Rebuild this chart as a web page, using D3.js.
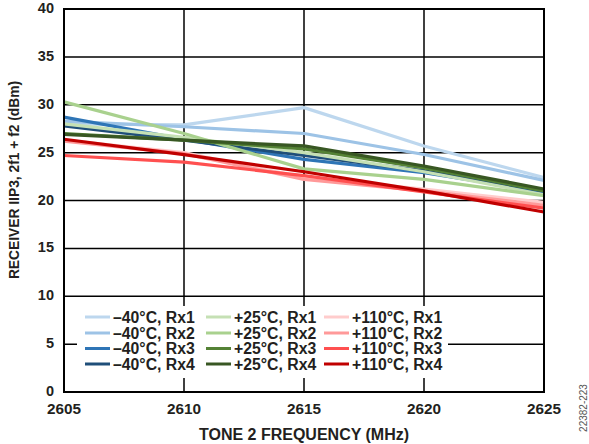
<!DOCTYPE html>
<html><head><meta charset="utf-8">
<script src="https://cdn.jsdelivr.net/npm/d3@7"></script>
<style>body{margin:0;background:#fff}svg{display:block}text{font-family:"Liberation Sans",Arial,sans-serif;font-weight:bold;fill:#231f20}</style>
</head><body><svg id="c" width="589" height="444"></svg>
<script>
const freqs = [2605, 2610, 2615, 2620, 2625];
const xTicks = [2605, 2610, 2615, 2620, 2625];
const yTicks = [0, 5, 10, 15, 20, 25, 30, 35, 40];
const seriesNames = ["–40°C, Rx1","–40°C, Rx2","–40°C, Rx3","–40°C, Rx4","+25°C, Rx1","+25°C, Rx2","+25°C, Rx3","+25°C, Rx4","+110°C, Rx1","+110°C, Rx2","+110°C, Rx3","+110°C, Rx4"];
const seriesColors = ["#bdd7ee","#9dc3e6","#2e75b6","#1f4e79","#c5e0b4","#a9d18e","#548235","#385723","#ffcccc","#ff9999","#ff5050","#c00000"];
const m40Rx1 = [28.0, 27.9, 29.7, 25.7, 22.4];
const m40Rx2 = [28.3, 27.7, 27.0, 24.8, 22.1];
const m40Rx3 = [28.7, 26.4, 24.3, 22.9, 20.9];
const m40Rx4 = [27.8, 26.3, 24.7, 23.1, 21.0];
const p25Rx1 = [28.0, 26.6, 25.0, 23.0, 20.6];
const p25Rx2 = [30.3, 27.0, 23.3, 22.2, 20.5];
const p25Rx3 = [27.0, 26.3, 25.4, 23.4, 21.0];
const p25Rx4 = [26.9, 26.3, 25.7, 23.6, 21.2];
const p110Rx1 = [26.3, 25.0, 22.4, 21.2, 19.8];
const p110Rx2 = [26.2, 24.9, 22.2, 21.0, 19.5];
const p110Rx3 = [24.7, 24.0, 22.6, 20.9, 19.2];
const p110Rx4 = [26.4, 24.8, 23.0, 21.0, 18.8];
const seriesValues = [m40Rx1,m40Rx2,m40Rx3,m40Rx4,p25Rx1,p25Rx2,p25Rx3,p25Rx4,p110Rx1,p110Rx2,p110Rx3,p110Rx4];

const svg = d3.select("#c");
const L = 64, R = 544, T = 9, B = 392;
const x = d3.scaleLinear().domain([2605, 2625]).range([L, R]);
const y = d3.scaleLinear().domain([0, 40]).range([B, T]);

// grid
const g = svg.append("g");
g.selectAll("line.h").data(yTicks).join("line")
  .attr("x1", L).attr("x2", R).attr("y1", d => y(d)).attr("y2", d => y(d))
  .attr("stroke", "#000").attr("stroke-width", 1.5);
g.selectAll("line.v").data(xTicks).join("line")
  .attr("x1", d => x(d)).attr("x2", d => x(d)).attr("y1", T).attr("y2", B)
  .attr("stroke", "#000").attr("stroke-width", 1.5);

// lines
const line = d3.line().x((d, i) => x(freqs[i])).y(d => y(d));
svg.append("g").selectAll("path").data(seriesValues).join("path")
  .attr("d", d => line(d)).attr("fill", "none")
  .attr("stroke", (d, i) => seriesColors[i]).attr("stroke-width", 3.2)
  .attr("stroke-linejoin", "round");

// frame
svg.append("rect").attr("x", L).attr("y", T).attr("width", R - L).attr("height", B - T)
  .attr("fill", "none").attr("stroke", "#000").attr("stroke-width", 2);

// axes labels
svg.append("g").selectAll("text").data(yTicks).join("text")
  .attr("x", 54).attr("y", d => y(d) - 1).attr("text-anchor", "end")
  .attr("dominant-baseline", "central").attr("font-size", 14.5).text(d => d);
svg.append("g").selectAll("text").data(xTicks).join("text")
  .attr("x", d => x(d)).attr("y", 408).attr("text-anchor", "middle")
  .attr("dominant-baseline", "central").attr("font-size", 15.3).text(d => d);
svg.append("text").attr("x", (L + R) / 2).attr("y", 434).attr("text-anchor", "middle")
  .attr("dominant-baseline", "central").attr("font-size", 16).text("TONE 2 FREQUENCY (MHz)");
svg.append("text").attr("transform", "translate(14,180) rotate(-90)").attr("text-anchor", "middle")
  .attr("dominant-baseline", "central").attr("font-size", 13.8).text("RECEIVER IIP3, 2f1 + f2 (dBm)");
svg.append("text").attr("transform", "translate(583,408) rotate(-90)").attr("text-anchor", "middle")
  .attr("dominant-baseline", "central").attr("font-size", 10)
  .style("font-weight", "normal").style("fill", "#555").text("22382-223");

// legend
const lg = svg.append("g");
lg.append("rect").attr("x", 77).attr("y", 306).attr("width", 371).attr("height", 72).attr("fill", "#fff");
const colX = [85, 206, 324];
const rowY = [317, 333, 348.5, 364];
seriesNames.forEach((name, i) => {
  const c = Math.floor(i / 4), r = i % 4;
  lg.append("line").attr("x1", colX[c]).attr("x2", colX[c] + 25)
    .attr("y1", rowY[r]).attr("y2", rowY[r]).attr("stroke", seriesColors[i]).attr("stroke-width", 3);
  lg.append("text").attr("x", colX[c] + 28).attr("y", rowY[r]).attr("dominant-baseline", "central")
    .attr("font-size", 15.8).text(name);
});
</script></body></html>
